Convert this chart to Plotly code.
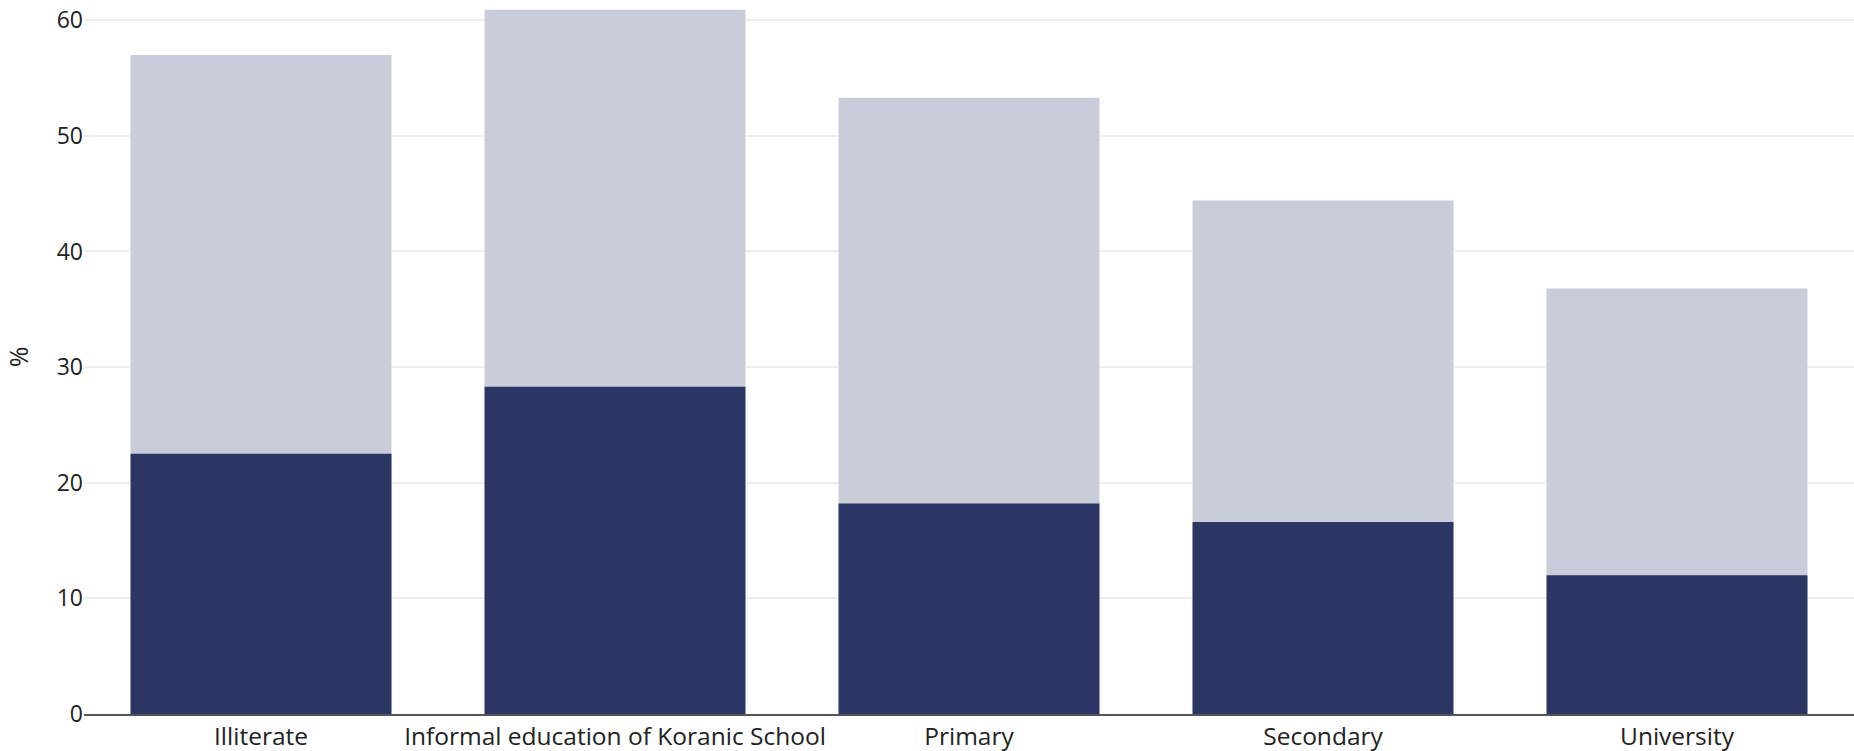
import plotly.graph_objects as go

categories = ["Illiterate", "Informal education of Koranic School", "Primary", "Secondary", "University"]
total_values = [57.0, 60.9, 53.3, 44.4, 36.8]
dark_values = [22.5, 28.3, 18.2, 16.6, 12.0]
y_ticks = [0, 10, 20, 30, 40, 50, 60]

fig = go.Figure()
fig.add_trace(go.Bar(x=categories, y=total_values, marker=dict(color="#C9CCD9", line=dict(width=0)),
                     name="Total", hoverinfo="x+y"))
fig.add_trace(go.Bar(x=categories, y=dark_values, marker=dict(color="#2B3664", line=dict(width=0)),
                     name="Share", hoverinfo="x+y"))

fig.update_layout(
    barmode="overlay",
    bargap=0.263,
    width=1854, height=751,
    margin=dict(l=84, r=0, t=0, b=37, autoexpand=False),
    paper_bgcolor="white", plot_bgcolor="white",
    showlegend=False,
    font=dict(family="Open Sans, Noto Sans, sans-serif", size=24, color="#222222"),
)
fig.update_xaxes(showline=True, linecolor="#555555", linewidth=2, showgrid=False, automargin=False,
                 ticks="", tickfont=dict(size=24.5, color="#222222"))
fig.update_yaxes(range=[0, 61.75], tickvals=y_ticks, showgrid=True, gridcolor="#EEEEEE", gridwidth=2,
                 zeroline=False, showline=False, ticks="", ticklabeloverflow="allow", automargin=False,
                 title=dict(text="%", standoff=20, font=dict(size=25)),
                 tickfont=dict(size=23, color="#222222"))

fig.write_html("out.html", config={"displayModeBar": False},
               post_script="document.body.style.margin='0';document.body.style.overflow='hidden';")
